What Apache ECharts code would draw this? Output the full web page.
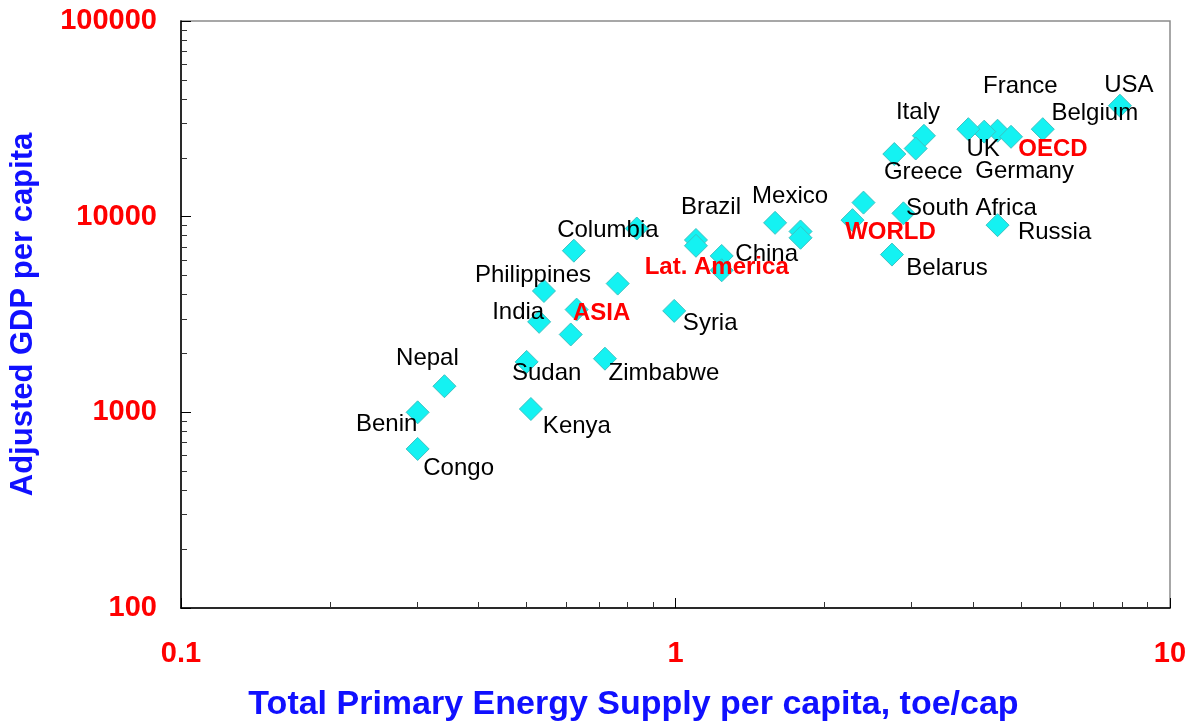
<!DOCTYPE html>
<html>
<head>
<meta charset="utf-8">
<script src="https://cdn.jsdelivr.net/npm/echarts@6/dist/echarts.min.js"></script>
<style>
  html, body { margin: 0; padding: 0; background: #fff; }
  #chart { width: 1196px; height: 724px; }
</style>
</head>
<body>
<div id="chart"></div>
<script>
// countries: name, energy (toe/cap), adjusted GDP per capita
const countryNames = ['USA', 'Belgium', 'Germany', 'UK', 'France', 'Italy', '', 'Greece', '', 'South Africa',
  'Belarus', 'Russia', 'Mexico', '', '', 'Brazil', '', 'China', 'Columbia', '', 'Philippines', '', 'India', '',
  'Syria', 'Sudan', 'Zimbabwe', 'Nepal', 'Benin', 'Kenya', 'Congo']
const countryEnergy = [7.92, 5.53, 4.48, 4.21, 3.91, 3.18, 3.06, 2.77, 2.40, 2.89,
  2.74, 4.48, 1.59, 1.79, 1.79, 1.10, 1.10, 1.24, 0.623, 0.835, 0.542, 0.764, 0.530, 0.614,
  0.994, 0.500, 0.720, 0.341, 0.301, 0.510, 0.301]
const countryGdp = [36900, 28000, 27500, 27200, 28000, 25900, 22300, 20900, 11800, 10400,
  6400, 9050, 9300, 8400, 7800, 7600, 7100, 6300, 6700, 8700, 4170, 4550, 2900, 2500,
  3300, 1810, 1880, 1360, 1000, 1040, 650]

// regional aggregates
const regionNames = ['OECD', 'WORLD', 'Lat. America', 'ASIA']
const regionEnergy = [4.77, 2.28, 1.24, 0.631]
const regionGdp = [25600, 9600, 5320, 3350]

const xMinorTicks = [0.2, 0.3, 0.4, 0.5, 0.6, 0.7, 0.8, 0.9, 2, 3, 4, 5, 6, 7, 8, 9]
const yMinorTicks = [200, 300, 400, 500, 600, 700, 800, 900, 2000, 3000, 4000, 5000, 6000, 7000, 8000, 9000,
  20000, 30000, 40000, 50000, 60000, 70000, 80000, 90000]

// label offsets from the marker centre, px
const labelOffset = {
  'USA': [9, -20], 'Belgium': [52, -16], 'Germany': [27, 41], 'UK': [-1, 18], 'France': [52, -43],
  'Italy': [-6, -23], 'Greece': [29, 18], 'South Africa': [68, -5], 'Belarus': [55, 14], 'Russia': [57, 7],
  'Mexico': [15, -26], 'Brazil': [15, -33], 'China': [45, -2], 'Columbia': [34, -20], 'Philippines': [-11, -16],
  'India': [-21, -9], 'Syria': [36, 12], 'Sudan': [20, 11], 'Zimbabwe': [59, 15], 'Nepal': [-17, -28],
  'Benin': [-31, 12], 'Kenya': [46, 17], 'Congo': [41, 19],
  'OECD': [42, 13], 'WORLD': [38, 12], 'Lat. America': [-5, -3], 'ASIA': [25, 4]
}

const FONT = '"Liberation Sans", Arial, sans-serif'

function buildPoints (names, xs, ys) {
  let points = []
  for (let i = 0; i < names.length; i++) {
    let item = { name: names[i], value: [xs[i], ys[i]] }
    if (labelOffset[names[i]]) {
      item.label = { offset: labelOffset[names[i]] }
    }
    points.push(item)
  }
  return points
}

const markerStyle = { color: '#14f2f2', borderColor: '#3cc2c2', borderWidth: 1, opacity: 1 }

let chart = echarts.init(document.getElementById('chart'))
let option = {
  animation: false,
  backgroundColor: '#fff',
  grid: {
    left: 181, right: 26, top: 21, bottom: 116,
    outerBoundsMode: 'none',
    show: true, borderColor: '#8a8a8a', borderWidth: 1.5
  },
  xAxis: [
    {
      type: 'log', logBase: 10, min: 0.1, max: 10,
      name: 'Total Primary Energy Supply per capita, toe/cap',
      nameLocation: 'middle', nameGap: 80,
      nameTextStyle: {
        color: '#1010ff', fontWeight: 'bold', fontSize: 34, fontFamily: FONT,
        padding: [0, 84, 0, 0]
      },
      axisLine: { lineStyle: { color: '#000', width: 1.5 } },
      axisTick: { inside: true, length: 10, lineStyle: { color: '#000' } },
      axisLabel: { color: '#ff0000', fontWeight: 'bold', fontSize: 29, fontFamily: FONT, margin: 31 },
      splitLine: { show: false }
    },
    {
      type: 'log', logBase: 10, min: 0.1, max: 10, position: 'bottom',
      axisLine: { show: false },
      axisTick: { inside: true, length: 6, customValues: xMinorTicks, lineStyle: { color: '#333' } },
      axisLabel: { show: false },
      splitLine: { show: false }
    }
  ],
  yAxis: [
    {
      type: 'log', logBase: 10, min: 100, max: 100000,
      name: 'Adjusted GDP per capita',
      nameLocation: 'middle', nameGap: 142,
      nameTextStyle: { color: '#1010ff', fontWeight: 'bold', fontSize: 31, fontFamily: FONT },
      axisLine: { lineStyle: { color: '#000', width: 1.5 } },
      axisTick: { inside: true, length: 10, lineStyle: { color: '#000' } },
      axisLabel: {
        color: '#ff0000', fontWeight: 'bold', fontSize: 29, fontFamily: FONT, margin: 24,
        formatter: v => String(Math.round(v))
      },
      splitLine: { show: false }
    },
    {
      type: 'log', logBase: 10, min: 100, max: 100000, position: 'left',
      axisLine: { show: false },
      axisTick: { inside: true, length: 6, customValues: yMinorTicks, lineStyle: { color: '#333' } },
      axisLabel: { show: false },
      splitLine: { show: false }
    }
  ],
  series: [
    {
      name: 'countries',
      type: 'scatter',
      symbol: 'diamond',
      symbolSize: 23,
      itemStyle: markerStyle,
      label: {
        show: true, position: 'inside', formatter: '{b}',
        color: '#000', fontSize: 24, fontFamily: FONT
      },
      data: buildPoints(countryNames, countryEnergy, countryGdp)
    },
    {
      name: 'regions',
      type: 'scatter',
      symbol: 'diamond',
      symbolSize: 23,
      itemStyle: markerStyle,
      label: {
        show: true, position: 'inside', formatter: '{b}',
        color: '#ff0000', fontWeight: 'bold', fontSize: 24, fontFamily: FONT
      },
      data: buildPoints(regionNames, regionEnergy, regionGdp)
    }
  ]
}
chart.setOption(option)
</script>
</body>
</html>
